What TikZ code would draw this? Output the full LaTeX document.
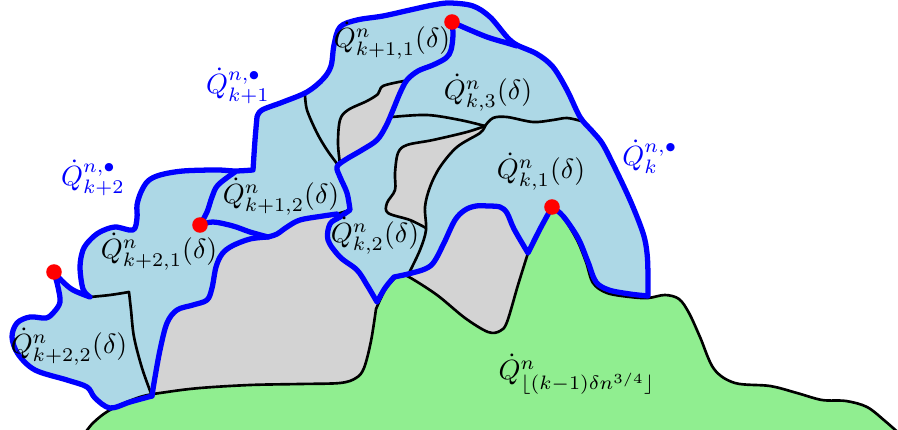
\documentclass[tikz,border=0pt]{standalone}
\usepackage{amsmath}
\definecolor{lblue}{RGB}{173,216,230}
\definecolor{lgray}{RGB}{211,211,211}
\definecolor{lgreen}{RGB}{144,238,144}
\begin{document}
\begin{tikzpicture}[x=0.36pt,y=-0.36pt,
  bl/.style={draw=blue,line width=1.9pt,line join=round,line cap=round},
  bk/.style={draw=black,line width=0.95pt,line join=round,line cap=round},
  reddot/.style={fill=red,draw=none},
  lab/.style={inner sep=0pt},
  blab/.style={inner sep=0pt,text=blue},
  sm/.style={smooth,tension=0.55}]
\useasboundingbox (0,0) rectangle (898,430);
\clip (0,0) rectangle (898,430);

% light blue base region
\fill[lblue]
  plot[sm] coordinates {(152,396) (130,402) (110,408) (95,398) (87,387) (67,380) (35,370) (18,354) (12,337) (17,323) (30,317) (46,318) (54,312) (60,302) (58,287) (54,272)}
  -- plot[sm] coordinates {(54,272) (62,281) (73,290) (90,297)}
  -- plot[sm] coordinates {(90,297) (83,289) (80,267) (83,250) (90,240) (100,232) (115,227) (133,230) (137,218) (137,205) (141,192) (148,181) (160,175) (183,171) (217,170) (235,171) (253,170)}
  -- plot[sm] coordinates {(253,170) (255,140) (257,117)}
  -- plot[sm] coordinates {(257,117) (262,110) (283,102) (307,92) (323,79) (331,66) (334,45) (340,27) (357,20) (383,16) (410,10) (433,5) (450,3) (473,6) (490,17) (507,37) (517,45) (537,54) (553,67) (567,90) (580,117) (592,131) (602,143) (612,162) (630,200) (643,233) (647,253) (648,275) (648,296)}
  -- plot[sm] coordinates {(648,296) (630,294) (609,290) (596,282) (588,262) (578,238) (563,216) (552,207)}
  -- plot[sm] coordinates {(552,207) (540,229) (528,253)}
  -- plot[sm] coordinates {(528,253) (514,229) (507,213) (500,207) (488,206) (476,206) (465,210) (455,220) (444,243) (434,262) (425,269) (408,274) (394,277)}
  -- plot[sm] coordinates {(394,277) (385,288) (377,302)}
  -- (371,341) -- (364,369) -- (350,385) -- (155,402) -- cycle;

% gray D (left)
\fill[lgray]
  plot[sm] coordinates {(152,396) (154,383) (160,350) (167,323) (177,310) (193,305) (207,300) (212,288) (216,267) (222,254) (232,246) (250,239) (268,237)}
  -- plot[sm] coordinates {(268,237) (277,234) (287,227) (300,220) (323,216) (337,214) (350,210)}
  -- plot[sm] coordinates {(350,210) (340,217) (330,224) (328,240) (340,257) (357,270) (367,285) (377,302)}
  -- (371,341) -- (364,369) -- (350,387) -- (155,402) -- cycle;

% gray A
\fill[lgray]
  plot[sm] coordinates {(404,81) (383,86) (378,94) (367,101) (348,110) (340,120) (338,143) (340,164)}
  -- plot[sm] coordinates {(340,164) (345,160) (362,150) (377,140) (386,126) (393,110) (400,93) (404,81)} -- cycle;

% gray B
\fill[lgray]
  plot[sm] coordinates {(485,126) (467,132) (433,140) (407,145) (398,153) (395,173) (395,190) (387,203) (388,213) (410,220) (426,228)}
  -- plot[sm] coordinates {(426,228) (425,207) (430,187) (440,167) (457,147) (480,133) (485,126)} -- cycle;

% gray C
\fill[lgray]
  plot[sm] coordinates {(408,274) (425,269) (434,262) (444,243) (455,220) (465,210) (476,206) (488,206) (500,207) (507,213) (514,229) (528,253)}
  -- (522,300) -- (495,345) -- (430,302) -- cycle;

% green region
\fill[lgreen]
  plot[sm] coordinates {(83,436) (93,423) (110,410) (140,397) (167,392) (200,388) (250,385) (300,384) (340,383) (356,378) (364,368) (371,341) (376,309)}
  -- plot[sm] coordinates {(376,309) (385,290) (395,278) (401,275) (409,277) (437,295) (465,318) (488,332) (500,331) (507,322) (518,285) (528,253)}
  -- plot[sm] coordinates {(528,253) (540,229) (552,207)}
  -- plot[sm] coordinates {(552,207) (563,217) (577,240) (586,262) (593,283) (607,293) (630,297) (648,298) (665,295) (679,299) (689,313) (700,337) (714,369) (735,383) (770,386) (797,393) (822,400) (846,401) (867,407) (885,421) (902,436)}
  -- (902,445) -- (80,445) -- cycle;

% green outline
\draw[bk]
  plot[sm] coordinates {(83,436) (93,423) (110,410) (140,397) (167,392) (200,388) (250,385) (300,384) (340,383) (356,378) (364,368) (371,341) (376,309)}
  -- plot[sm] coordinates {(376,309) (385,290) (395,278) (401,275) (409,277) (437,295) (465,318) (488,332) (500,331) (507,322) (518,285) (528,253)}
  -- plot[sm] coordinates {(528,253) (540,229) (552,207)}
  -- plot[sm] coordinates {(552,207) (563,217) (577,240) (586,262) (593,283) (607,293) (630,297) (648,298) (665,295) (679,299) (689,313) (700,337) (714,369) (735,383) (770,386) (797,393) (822,400) (846,401) (867,407) (885,421) (902,436)};

% black inner boundaries
\draw[bk] plot[sm] coordinates {(90,297) (110,295) (129,292)}
  -- plot[sm] coordinates {(129,292) (131,310) (134,337) (142,368) (152,396)};
\draw[bk] plot[sm] coordinates {(305,94) (307,110) (317,133) (327,150) (338,165)};
\draw[bk] plot[sm] coordinates {(340,164) (338,143) (340,120) (348,110) (367,101) (378,94) (383,86) (404,81)};
\draw[bk] plot[sm] coordinates {(392,117) (427,115) (460,120) (485,126)};
\draw[bk] plot[sm] coordinates {(485,126) (493,118) (507,117) (533,122) (553,120) (567,118) (581,121)};
\draw[bk] plot[sm] coordinates {(485,126) (467,132) (433,140) (407,145) (398,153) (395,173) (395,190) (387,203) (388,213) (410,220) (426,228)};
\draw[bk] plot[sm] coordinates {(485,126) (480,133) (457,147) (440,167) (430,187) (425,207) (426,230) (420,250) (409,273)};
\draw[bk] (337,214) -- (350,210);

% blue boundaries
\draw[bl]
  plot[sm] coordinates {(152,396) (130,402) (110,408) (95,398) (87,387) (67,380) (35,370) (18,354) (12,337) (17,323) (30,317) (46,318) (54,312) (60,302) (58,287) (54,272)}
  -- plot[sm] coordinates {(54,272) (62,281) (73,290) (90,297)}
  -- plot[sm] coordinates {(90,297) (83,289) (80,267) (83,250) (90,240) (100,232) (115,227) (133,230) (137,218) (137,205) (141,192) (148,181) (160,175) (183,171) (217,170) (235,171) (253,170)}
  -- plot[sm] coordinates {(253,170) (255,140) (257,117)}
  -- plot[sm] coordinates {(257,117) (262,110) (283,102) (307,92) (323,79) (331,66) (334,45) (340,27) (357,20) (383,16) (410,10) (433,5) (450,3) (473,6) (490,17) (507,37) (517,45) (537,54) (553,67) (567,90) (580,117) (592,131) (602,143) (612,162) (630,200) (643,233) (647,253) (648,275) (648,296)}
  -- plot[sm] coordinates {(648,296) (630,294) (609,290) (596,282) (588,262) (578,238) (563,216) (552,207)}
  -- plot[sm] coordinates {(552,207) (540,229) (528,253)}
  -- plot[sm] coordinates {(528,253) (514,229) (507,213) (500,207) (488,206) (476,206) (465,210) (455,220) (444,243) (434,262) (425,269) (408,274) (394,277)}
  -- plot[sm] coordinates {(394,277) (385,288) (377,302)}
  -- plot[sm] coordinates {(377,302) (367,285) (357,270) (340,257) (328,240) (330,224) (340,217) (350,210)}
  -- plot[sm] coordinates {(350,210) (347,193) (340,177) (337,167) (345,160) (362,150) (377,140) (386,126) (393,110) (400,93) (407,80) (418,71) (433,65) (446,58) (451,50) (453,35) (452,22)}
  -- plot[sm] coordinates {(452,22) (463,27) (487,37) (507,43) (517,46)};
\draw[bl]
  plot[sm] coordinates {(337,214) (323,216) (300,220) (287,227) (277,234) (268,237)}
  -- plot[sm] coordinates {(268,237) (250,239) (232,246) (222,254) (216,267) (212,288) (207,300) (193,305) (177,310) (167,323) (160,350) (154,383) (152,396)};
\draw[bl] plot[sm] coordinates {(200,225) (213,222) (233,226) (250,232) (268,237)};
\draw[bl] plot[sm] coordinates {(200,225) (207,212) (212,197) (218,185) (235,172)};

% red dots
\fill[reddot] (54,272) circle[radius=2.8pt];
\fill[reddot] (200,225) circle[radius=2.8pt];
\fill[reddot] (452,22) circle[radius=2.8pt];
\fill[reddot] (552,207) circle[radius=2.8pt];

% labels
\node[blab] (lk2) at (93,178) {$\dot{Q}^{n,\bullet}_{k+2}$};
\node[blab] (lk1) at (238,86) {$\dot{Q}^{n,\bullet}_{k+1}$};
\node[blab] (lk) at (650,157) {$\dot{Q}^{n,\bullet}_{k}$};
\node[lab] (a21) at (159,252) {$\dot{Q}^{n}_{k+2,1}(\delta)$};
\node[lab] (a22) at (69,347) {$\dot{Q}^{n}_{k+2,2}(\delta)$};
\node[lab] (a12) at (281,197) {$\dot{Q}^{n}_{k+1,2}(\delta)$};
\node[lab] (a11) at (392,41) {$\dot{Q}^{n}_{k+1,1}(\delta)$};
\node[lab] (b3) at (488,93) {$\dot{Q}^{n}_{k,3}(\delta)$};
\node[lab] (b2) at (375,236) {$\dot{Q}^{n}_{k,2}(\delta)$};
\node[lab] (b1) at (541,172) {$\dot{Q}^{n}_{k,1}(\delta)$};
\node[lab] (g) at (577,374) {$\dot{Q}^{n}_{\lfloor (k-1)\delta n^{3/4}\rfloor}$};
\end{tikzpicture}
\end{document}
